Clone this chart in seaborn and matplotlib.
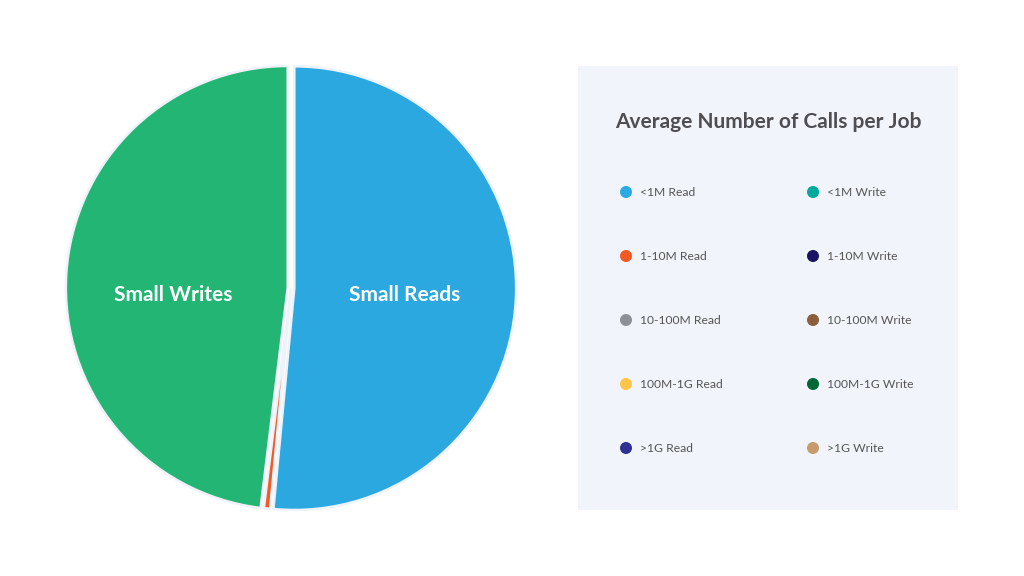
import matplotlib
matplotlib.use('Agg')
import matplotlib.pyplot as plt
import seaborn as sns
import pandas as pd

# Data
categories = ['<1M Read', '<1M Write', '1-10M Read', '1-10M Write',
              '10-100M Read', '10-100M Write', '100M-1G Read', '100M-1G Write',
              '>1G Read', '>1G Write']
legend_colors = ['#29abe2', '#00a99d', '#f15a24', '#1b1464',
                 '#8e9099', '#8b5e3c', '#fbc54a', '#006837',
                 '#2e3192', '#c69c6d']

# pie slices (clockwise from 12 o'clock)
slice_names = ['Small Reads', '1-10M Read', 'Small Writes']
slice_values = [51.5, 0.45, 48.05]
slice_colors = ['#2ca8e1', '#f15a29', '#23b573']
slice_labels = ['Small Reads', '', 'Small Writes']
label_pos = [(0.51, -0.03), None, (-0.53, -0.03)]

title = 'Average Number of Calls per Job'

sns.set_theme(style='white')
plt.rcParams['font.family'] = ['Lato', 'DejaVu Sans']

fig = plt.figure(figsize=(10.24, 5.76), dpi=100)
fig.patch.set_facecolor('white')

# pie
W, H = 1024, 576
ax = fig.add_axes([47 / W, 44 / H, 488 / W, 488 / H])
ax.pie(slice_values, colors=slice_colors,
       startangle=90, counterclock=False, radius=1.0,
       explode=[0.015, 0.0, 0.015],
       wedgeprops=dict(edgecolor='#eef2f9', linewidth=1.8))
for lab, pos in zip(slice_labels, label_pos):
    if lab:
        ax.text(pos[0], pos[1], lab, color='white', fontsize=15,
                fontweight='bold', ha='center', va='center')
ax.set_xlim(-1.1, 1.1)
ax.set_ylim(-1.1, 1.1)
ax.set_aspect('equal')
ax.axis('off')

# legend panel
lax = fig.add_axes([578 / W, (576 - 510) / H, 380 / W, 444 / H])
lax.set_facecolor('#f1f5fb')
for s in lax.spines.values():
    s.set_visible(False)
lax.set_xlim(0, 380)
lax.set_ylim(444, 0)
lax.set_xticks([])
lax.set_yticks([])

df = pd.DataFrame({'category': categories})
df['col'] = [i % 2 for i in range(len(categories))]
df['row'] = [i // 2 for i in range(len(categories))]
df['x'] = 48 + df['col'] * 187
df['y'] = 126 + df['row'] * 64

sns.scatterplot(data=df, x='x', y='y', hue='category',
                palette=dict(zip(categories, legend_colors)),
                s=75, edgecolor='none', legend=False, ax=lax)
for _, r in df.iterrows():
    lax.text(r['x'] + 14, r['y'], r['category'], fontsize=8.7,
             color='#555555', ha='left', va='center')
lax.set_xlabel('')
lax.set_ylabel('')
lax.text(37, 56, title, fontsize=15, fontweight='bold', color='#4d4d52',
         ha='left', va='center')

fig.savefig('out.png', dpi=100, facecolor='white')
